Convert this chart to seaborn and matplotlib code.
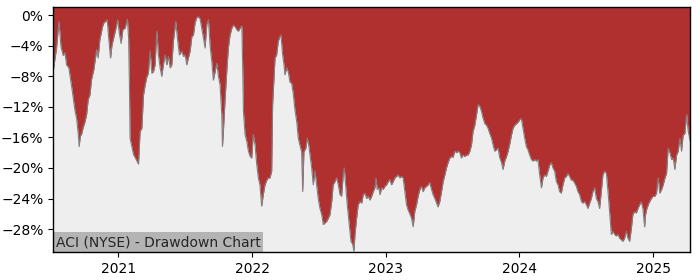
import numpy as np
import pandas as pd
import matplotlib
matplotlib.use("Agg")
import matplotlib.pyplot as plt
import matplotlib.dates as mdates
from matplotlib.ticker import PercentFormatter, MultipleLocator
import seaborn as sns

# Decimal years of each reading
years = [
    2020.514, 2020.539, 2020.557, 2020.572, 2020.589, 2020.602, 2020.614, 2020.631, 2020.644, 2020.659,
    2020.676, 2020.689, 2020.701, 2020.708, 2020.717, 2020.726, 2020.738, 2020.751, 2020.764, 2020.776,
    2020.788, 2020.801, 2020.818, 2020.839, 2020.850, 2020.863, 2020.883, 2020.893, 2020.908, 2020.918,
    2020.930, 2020.943, 2020.953, 2020.963, 2020.981, 2020.996, 2021.007, 2021.020, 2021.033, 2021.050,
    2021.067, 2021.076, 2021.082, 2021.087, 2021.112, 2021.138, 2021.150, 2021.162, 2021.175, 2021.187,
    2021.200, 2021.212, 2021.224, 2021.237, 2021.250, 2021.262, 2021.274, 2021.287, 2021.299, 2021.312,
    2021.324, 2021.336, 2021.349, 2021.362, 2021.374, 2021.387, 2021.399, 2021.411, 2021.429, 2021.441,
    2021.456, 2021.474, 2021.486, 2021.499, 2021.511, 2021.523, 2021.536, 2021.549, 2021.561, 2021.573,
    2021.586, 2021.598, 2021.611, 2021.624, 2021.636, 2021.648, 2021.661, 2021.673, 2021.686, 2021.698,
    2021.710, 2021.723, 2021.736, 2021.748, 2021.760, 2021.773, 2021.778, 2021.785, 2021.798, 2021.810,
    2021.822, 2021.835, 2021.848, 2021.860, 2021.873, 2021.885, 2021.897, 2021.910, 2021.923, 2021.930,
    2021.935, 2021.947, 2021.960, 2021.972, 2021.985, 2021.997, 2022.009, 2022.022, 2022.035, 2022.047,
    2022.059, 2022.072, 2022.084, 2022.097, 2022.110, 2022.121, 2022.134, 2022.147, 2022.154, 2022.172,
    2022.184, 2022.196, 2022.209, 2022.216, 2022.229, 2022.239, 2022.246, 2022.259, 2022.271, 2022.284,
    2022.296, 2022.308, 2022.321, 2022.334, 2022.346, 2022.358, 2022.371, 2022.379, 2022.388, 2022.403,
    2022.413, 2022.424, 2022.433, 2022.446, 2022.458, 2022.471, 2022.483, 2022.495, 2022.508, 2022.521,
    2022.533, 2022.545, 2022.558, 2022.570, 2022.583, 2022.596, 2022.607, 2022.620, 2022.633, 2022.645,
    2022.658, 2022.670, 2022.682, 2022.690, 2022.700, 2022.712, 2022.727, 2022.740, 2022.753, 2022.762,
    2022.770, 2022.782, 2022.794, 2022.807, 2022.820, 2022.832, 2022.845, 2022.857, 2022.869, 2022.882,
    2022.895, 2022.907, 2022.919, 2022.927, 2022.936, 2022.949, 2022.957, 2022.969, 2022.981, 2022.994,
    2023.007, 2023.019, 2023.031, 2023.044, 2023.056, 2023.069, 2023.082, 2023.093, 2023.106, 2023.119,
    2023.131, 2023.144, 2023.156, 2023.168, 2023.181, 2023.194, 2023.206, 2023.218, 2023.231, 2023.243,
    2023.256, 2023.268, 2023.280, 2023.293, 2023.306, 2023.318, 2023.330, 2023.343, 2023.355, 2023.368,
    2023.381, 2023.392, 2023.405, 2023.418, 2023.430, 2023.443, 2023.455, 2023.467, 2023.480, 2023.493,
    2023.505, 2023.517, 2023.530, 2023.542, 2023.555, 2023.567, 2023.579, 2023.592, 2023.605, 2023.617,
    2023.630, 2023.642, 2023.654, 2023.667, 2023.680, 2023.692, 2023.704, 2023.717, 2023.729, 2023.742,
    2023.754, 2023.766, 2023.779, 2023.792, 2023.804, 2023.816, 2023.829, 2023.841, 2023.854, 2023.867,
    2023.878, 2023.891, 2023.904, 2023.916, 2023.929, 2023.941, 2023.953, 2023.966, 2023.979, 2023.991,
    2024.003, 2024.016, 2024.028, 2024.041, 2024.053, 2024.065, 2024.078, 2024.091, 2024.103, 2024.116,
    2024.128, 2024.140, 2024.153, 2024.166, 2024.178, 2024.190, 2024.203, 2024.215, 2024.228, 2024.240,
    2024.252, 2024.265, 2024.278, 2024.290, 2024.302, 2024.315, 2024.327, 2024.340, 2024.353, 2024.364,
    2024.377, 2024.390, 2024.402, 2024.415, 2024.427, 2024.439, 2024.452, 2024.465, 2024.477, 2024.489,
    2024.502, 2024.514, 2024.527, 2024.539, 2024.551, 2024.564, 2024.577, 2024.589, 2024.601, 2024.614,
    2024.626, 2024.639, 2024.652, 2024.664, 2024.676, 2024.689, 2024.701, 2024.714, 2024.726, 2024.738,
    2024.751, 2024.764, 2024.776, 2024.788, 2024.801, 2024.813, 2024.826, 2024.839, 2024.850, 2024.863,
    2024.876, 2024.888, 2024.901, 2024.913, 2024.925, 2024.938, 2024.945, 2024.955, 2024.970, 2024.988,
    2025.000, 2025.013, 2025.025, 2025.037, 2025.050, 2025.063, 2025.075, 2025.088, 2025.100, 2025.112,
    2025.125, 2025.138, 2025.150, 2025.162, 2025.175, 2025.187, 2025.200, 2025.212, 2025.224, 2025.237,
    2025.250, 2025.262, 2025.277,
]

# Drawdown in percent
drawdown_pct = [
    -7.3, -4.3, -0.8, -4.1, -5.3, -4.9, -6.5, -6.9, -8.4, -10.2,
    -12.4, -13.5, -15.5, -17.2, -15.8, -15.6, -14.7, -14.0, -13.0, -11.0,
    -10.5, -8.4, -7.1, -4.5, -5.6, -3.2, -1.5, -1.0, -0.8, -0.6,
    -3.2, -5.6, -4.0, -3.2, -1.9, -0.6, -2.4, -3.7, -1.9, -1.7,
    -0.5, -3.0, -9.0, -16.1, -18.2, -19.1, -19.5, -15.2, -14.8, -10.5,
    -9.1, -8.1, -7.6, -4.7, -7.6, -7.4, -6.5, -2.1, -5.2, -6.9,
    -8.0, -6.5, -5.2, -6.5, -5.4, -6.9, -6.5, -3.4, -0.8, -3.0,
    -5.2, -4.7, -5.4, -5.2, -6.5, -5.6, -4.7, -2.8, -2.6, -1.0,
    -0.3, -0.2, -0.5, -1.8, -3.0, -4.3, -1.2, -0.6, -4.1, -6.0,
    -8.5, -7.4, -6.3, -8.0, -9.1, -13.0, -17.2, -15.2, -10.9, -7.4,
    -4.3, -2.6, -1.7, -1.3, -1.5, -1.9, -2.1, -1.7, -1.4, -7.4,
    -12.6, -15.6, -16.5, -17.8, -18.5, -18.7, -15.6, -16.9, -19.5, -21.3,
    -22.2, -25.0, -23.5, -22.2, -21.6, -21.3, -21.3, -20.4, -11.7, -5.6,
    -5.2, -3.4, -2.8, -2.6, -5.2, -6.5, -7.8, -6.9, -7.4, -8.8,
    -8.9, -10.2, -12.4, -13.9, -16.1, -17.0, -17.9, -23.1, -17.9, -17.4,
    -16.1, -17.0, -18.2, -20.0, -22.2, -20.4, -22.2, -24.0, -25.3, -26.1,
    -27.4, -27.2, -27.0, -26.6, -26.1, -24.4, -22.2, -21.8, -21.3, -22.2,
    -23.5, -23.7, -20.9, -20.0, -22.2, -24.8, -27.4, -29.6, -30.0, -30.9,
    -28.7, -26.6, -24.8, -24.4, -24.6, -23.5, -23.3, -24.0, -23.7, -24.2,
    -23.7, -23.1, -22.6, -21.3, -22.8, -22.6, -23.5, -22.6, -22.8, -22.4,
    -22.2, -21.8, -21.5, -22.2, -21.8, -21.3, -21.1, -20.9, -21.3, -21.1,
    -21.3, -23.1, -24.8, -25.5, -26.0, -26.6, -27.7, -25.7, -24.8, -23.7,
    -22.8, -22.4, -23.1, -22.6, -22.4, -22.2, -21.9, -22.8, -23.5, -24.0,
    -24.6, -25.1, -24.4, -23.1, -21.8, -20.9, -20.0, -19.3, -18.7, -18.5,
    -18.6, -17.8, -18.0, -17.8, -18.0, -18.7, -18.3, -18.5, -18.3, -18.3,
    -17.8, -17.0, -15.2, -14.4, -13.0, -11.7, -11.9, -12.6, -13.5, -14.2,
    -14.4, -14.8, -15.5, -16.1, -17.0, -17.8, -17.6, -17.4, -18.7, -19.3,
    -20.2, -19.1, -18.5, -17.8, -16.8, -15.7, -14.8, -14.4, -14.2, -14.0,
    -13.7, -13.5, -14.8, -16.1, -17.2, -17.6, -18.3, -18.9, -19.1, -18.9,
    -19.1, -18.9, -20.9, -22.6, -21.3, -20.9, -21.1, -20.4, -19.6, -19.3,
    -20.0, -20.4, -21.8, -22.2, -23.1, -23.3, -22.2, -21.3, -21.1, -20.7,
    -21.1, -21.6, -21.6, -22.0, -22.4, -23.1, -23.5, -24.4, -24.6, -24.4,
    -24.8, -25.3, -24.6, -24.0, -23.1, -22.6, -24.0, -24.4, -25.3, -23.1,
    -20.9, -20.4, -20.7, -23.1, -25.7, -28.7, -28.3, -28.7, -28.9, -28.7,
    -29.2, -29.4, -29.6, -29.2, -28.3, -29.2, -29.6, -27.9, -26.1, -25.7,
    -25.9, -25.3, -24.8, -24.4, -25.3, -27.7, -26.1, -25.3, -24.6, -24.0,
    -23.7, -23.7, -23.3, -21.3, -23.3, -22.8, -22.2, -21.3, -20.7, -17.4,
    -18.0, -18.9, -18.7, -20.2, -18.3, -17.8, -16.1, -17.8, -15.7, -15.5,
    -13.0, -15.2, -16.5,
]

title_text = "ACI (NYSE) - Drawdown Chart"


def to_ts(y):
    yr = int(y)
    return pd.Timestamp(yr, 1, 1) + pd.Timedelta(days=(y - yr) * 365.25)


df = pd.DataFrame({
    "date": [to_ts(y) for y in years],
    "dd": np.array(drawdown_pct) / 100.0,
})

sns.set_style("ticks", {"axes.facecolor": "#eeeeee", "axes.edgecolor": "black"})
plt.rcParams["font.family"] = ["DejaVu Sans"]

fig = plt.figure(figsize=(7, 2.8), dpi=100)
ax = fig.add_axes([0.076, 0.1, 0.910, 0.875])

red = "#b03030"
y_top = 0.0107
ax.fill_between(df["date"], df["dd"], 0.05, color=red, lw=0, zorder=2)
sns.lineplot(data=df, x="date", y="dd", ax=ax, color="#808080", lw=0.8, zorder=3)

ax.set_xlim(df["date"].min(), df["date"].max())
ax.set_ylim(-0.31, y_top)
ax.yaxis.set_major_locator(MultipleLocator(0.04))
ax.yaxis.set_major_formatter(PercentFormatter(xmax=1, decimals=0))
ax.xaxis.set_major_locator(mdates.YearLocator())
ax.xaxis.set_major_formatter(mdates.DateFormatter("%Y"))
ax.set_xlabel("")
ax.set_ylabel("")
ax.tick_params(labelsize=10, length=3.5, width=0.8, colors="black")
for s in ax.spines.values():
    s.set_linewidth(1.0)
    s.set_color("black")
    s.set_zorder(6)

ax.text(0.004, 0.012, title_text, transform=ax.transAxes, fontsize=10,
        ha="left", va="bottom", zorder=5,
        bbox=dict(facecolor="#b4b4b4", edgecolor="none", pad=2.0))

fig.savefig("out.png", dpi=100)
